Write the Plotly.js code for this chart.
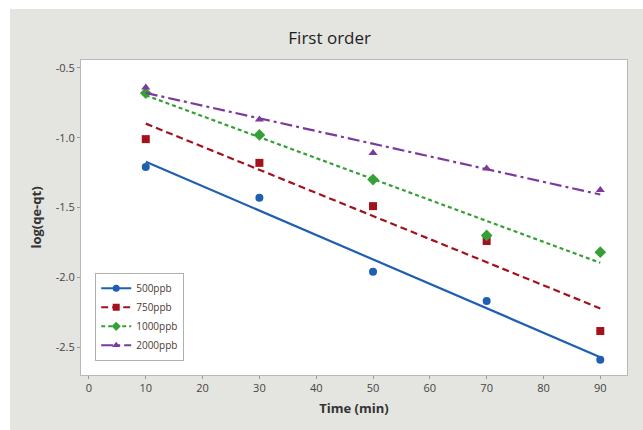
<!DOCTYPE html>
<html>
<head>
<meta charset="utf-8">
<script src="https://cdn.plot.ly/plotly-3.0.1.min.js"></script>
<style>
  html, body { margin: 0; padding: 0; background: #ffffff; }
  #chart { position: absolute; left: 10px; top: 9px; width: 633px; height: 421px; }
</style>
</head>
<body>
<div id="chart"></div>
<script>
// ---- data ----
const time = [10, 30, 50, 70, 90];
const seriesNames = ["500ppb", "750ppb", "1000ppb", "2000ppb"];
const y500  = [-1.21, -1.43, -1.96, -2.17, -2.59];
const y750  = [-1.01, -1.18, -1.49, -1.74, -2.385];
const y1000 = [-0.68, -0.98, -1.30, -1.70, -1.82];
const y2000 = [-0.64, -0.87, -1.11, -1.22, -1.375];
const xTickVals = [0, 10, 20, 30, 40, 50, 60, 70, 80, 90];
const xTickText = ["0", "10", "20", "30", "40", "50", "60", "70", "80", "90"];
const yTickVals = [-0.5, -1.0, -1.5, -2.0, -2.5];
const yTickText = ["-0.5", "-1.0", "-1.5", "-2.0", "-2.5"];

// ---- styles ----
const colors  = ["#1f5fb3", "#a3121c", "#35a035", "#7b3a9c"];
const symbols = ["circle", "square", "diamond", "triangle-up"];
const dashes  = ["solid", "7px,4px", "4px,3px", "12px,4px,3px,4px"];
const allY = [y500, y750, y1000, y2000];

// least-squares linear fit from the data
function fit(xs, ys) {
  const n = xs.length;
  const mx = xs.reduce((a, b) => a + b, 0) / n;
  const my = ys.reduce((a, b) => a + b, 0) / n;
  let sxy = 0, sxx = 0;
  for (let i = 0; i < n; i++) { sxy += (xs[i] - mx) * (ys[i] - my); sxx += (xs[i] - mx) ** 2; }
  const b = sxy / sxx, a = my - b * mx;
  const x0 = Math.min(...xs), x1 = Math.max(...xs);
  return { x: [x0, x1], y: [a + b * x0, a + b * x1] };
}

const traces = [];
allY.forEach((ys, i) => {
  const f = fit(time, ys);
  traces.push({
    x: f.x, y: f.y, mode: "lines", type: "scatter", showlegend: false,
    line: { color: colors[i], width: 2.2, dash: dashes[i] }, hoverinfo: "skip"
  });
  traces.push({
    x: time, y: ys, mode: "markers", type: "scatter", showlegend: false,
    marker: { color: colors[i], symbol: symbols[i], size: symbols[i] === "diamond" ? 9 : 8 }
  });
});
// legend entries
allY.forEach((ys, i) => {
  traces.push({
    x: [null], y: [null], mode: "lines+markers", type: "scatter", name: seriesNames[i],
    line: { color: colors[i], width: 2, dash: dashes[i] },
    marker: { color: colors[i], symbol: symbols[i], size: 7 }
  });
});

const layout = {
  width: 633, height: 421,
  paper_bgcolor: "#e4e4e0",
  plot_bgcolor: "#ffffff",
  margin: { l: 71, r: 16, t: 51, b: 55 },
  font: { family: "Open Sans, Noto Sans, sans-serif", size: 11, color: "#3a3a3a" },
  title: { text: "First order", x: 0.505, xanchor: "center", y: 0.93, yanchor: "middle",
           font: { size: 17, color: "#1e1e1e" } },
  xaxis: {
    range: [-1.4, 94.7], tickvals: xTickVals, ticktext: xTickText,
    ticks: "outside", ticklen: 3, tickcolor: "#9a9a9a",
    showgrid: false, zeroline: false,
    showline: true, mirror: true, linecolor: "#b8b8b8", linewidth: 1,
    tickfont: { size: 11, color: "#444444" },
    title: { text: "<b>Time (min)</b>", standoff: 9, font: { size: 13, color: "#333333" } }
  },
  yaxis: {
    range: [-2.70, -0.443], tickvals: yTickVals, ticktext: yTickText,
    ticks: "outside", ticklen: 3, tickcolor: "#9a9a9a",
    showgrid: false, zeroline: false,
    showline: true, mirror: true, linecolor: "#b8b8b8", linewidth: 1,
    tickfont: { size: 11, color: "#444444" },
    title: { text: "<b>log(qe-qt)</b>", standoff: 11, font: { size: 13, color: "#333333" } }
  },
  legend: {
    x: 0.026, y: 0.045, xanchor: "left", yanchor: "bottom",
    bgcolor: "#ffffff", bordercolor: "#b0b0b0", borderwidth: 1,
    font: { size: 10, color: "#4a3a34" }, tracegroupgap: 0, itemwidth: 30
  }
};

Plotly.newPlot("chart", traces, layout, { displayModeBar: false, staticPlot: true });
</script>
</body>
</html>
